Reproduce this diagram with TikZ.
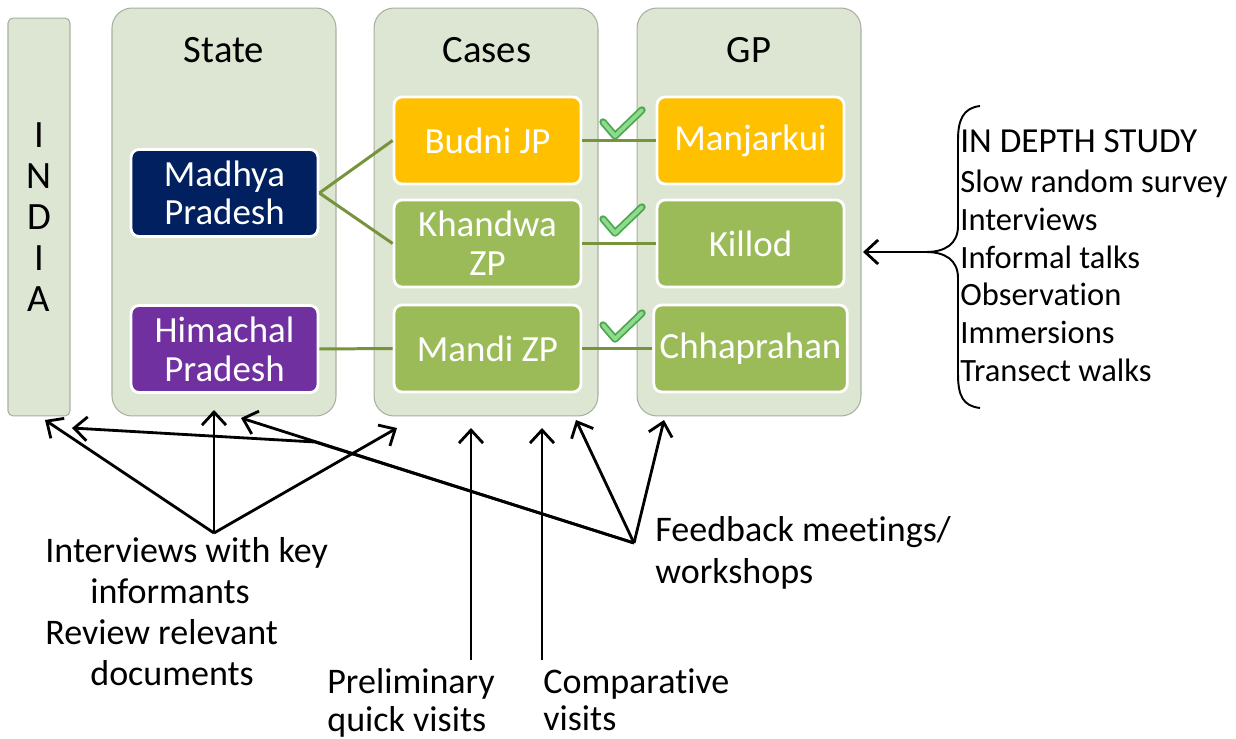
\documentclass[tikz,border=0pt]{standalone}
\usepackage{fontspec}
\setmainfont{Carlito}[Ligatures=NoCommon]
\usetikzlibrary{arrows.meta}
\definecolor{colfill}{HTML}{DCE6D2}
\definecolor{colline}{HTML}{A8B0A0}
\definecolor{mpblue}{HTML}{002060}
\definecolor{hppurple}{HTML}{7030A0}
\definecolor{jpgold}{HTML}{FFC000}
\definecolor{zpgreen}{HTML}{9BBB59}
\definecolor{linkgreen}{HTML}{77933C}
\definecolor{tickdark}{HTML}{4FA54F}
\definecolor{ticklight}{HTML}{8DDB8D}
\tikzset{
  col/.style={draw=colline, fill=colfill, line width=0.6pt, rounded corners=0.4cm},
  head/.style={font=\fontsize{22}{24}\selectfont},
  box/.style={draw=white, line width=1.6pt, rounded corners=0.16cm, minimum width=3.74cm, minimum height=1.74cm, text=white, align=center, font=\fontsize{21}{22}\selectfont},
  link/.style={draw=linkgreen, line width=1.7pt},
  arr/.style={-{Straight Barb[length=2.6mm,width=4.8mm,line width=1.6pt]}, line width=1.6pt},
  note/.style={anchor=north west, inner sep=0pt, align=left, font=\fontsize{20.5}{23.4}\selectfont}
}
\begin{document}
\begin{tikzpicture}[x=0.02cm, y=-0.02cm]
  \useasboundingbox (0,0) rectangle (1236,739);
  \node[col, rounded corners=0.1cm, minimum width=1.24cm, minimum height=7.96cm] (india) at (39,217) {};
  \node[col, minimum width=4.48cm, minimum height=8.16cm] (state) at (224,212) {};
  \node[col, minimum width=4.48cm, minimum height=8.16cm] (cases) at (486,212) {};
  \node[col, minimum width=4.48cm, minimum height=8.16cm] (gp) at (749,212) {};
  \node[align=center, font=\fontsize{22}{23.3}\selectfont] (indialbl) at (39,217) {I\\N\\D\\I\\A};
  \node[head] (statelbl) at (224,50) {State};
  \node[head] (caseslbl) at (487,50) {Cases};
  \node[head] (gplbl) at (749,50) {GP};
  \node[box, fill=mpblue] (mp) at (224.5,193) {Madhya\\Pradesh};
  \node[box, fill=hppurple] (hp) at (224.5,349) {Himachal\\Pradesh};
  \node[box, fill=jpgold] (budni) at (487.5,140.5) {Budni JP};
  \node[box, fill=zpgreen] (khandwa) at (487.5,243.5) {Khandwa\\ZP};
  \node[box, fill=zpgreen] (mandi) at (487.5,348.5) {Mandi ZP};
  \node[box, fill=jpgold] (manj) at (750.5,140.5) {Manjarkui};
  \node[box, fill=zpgreen] (killod) at (750.5,243.5) {Killod};
  \node[box, fill=zpgreen] (chha) at (750.5,348.5) {Chhaprahan};
  \foreach \source/\dest in {mp/budni, mp/khandwa, hp/mandi, budni/manj, khandwa/killod, mandi/chha}
    \path[link] (\source.east) -- (\dest.west);
  \foreach \dy in {0,97,203} {
    \draw[tickdark, line width=4.2pt, line cap=round, line join=round] (603,122+\dy) -- (615,136+\dy) -- (642,110+\dy);
    \draw[ticklight, line width=2.2pt, line cap=round, line join=round] (603,122+\dy) -- (615,136+\dy) -- (642,110+\dy);
  }
  \coordinate (kiorig) at (214,533);
  \coordinate (kia) at (45,420);
  \coordinate (kib) at (214,410);
  \coordinate (kic) at (397,428);
  \coordinate (fborig) at (634,543);
  \coordinate (fbbend) at (315,442);
  \coordinate (fba) at (72,428);
  \coordinate (fbb) at (241,418);
  \coordinate (fbc) at (576,420);
  \coordinate (fbd) at (664,420);
  \coordinate (pqfoot) at (471,660);
  \coordinate (pqtip) at (471,428);
  \coordinate (cvfoot) at (542,660);
  \coordinate (cvtip) at (542,428);
  \coordinate (bracetip) at (926,252);
  \coordinate (gptip) at (863,252);
  \foreach \t in {kia,kib,kic}
    \draw[arr] (kiorig) -- (\t);
  \foreach \t in {fbb,fbc,fbd}
    \draw[arr] (fborig) -- (\t);
  \draw[arr] (fborig) -- (fbbend) -- (fba);
  \draw[arr] (pqfoot) -- (pqtip);
  \draw[arr] (cvfoot) -- (cvtip);
  \draw[arr] (bracetip) -- (gptip);
  \draw[line width=1.1pt] (980,106) .. controls (963,108) and (958,120) .. (958,140) -- (958,226) .. controls (958,244) and (945,252) .. (bracetip) .. controls (945,252) and (958,260) .. (958,278) -- (958,374) .. controls (958,396) and (963,406) .. (980,408);
  \node[note] (kitext) at (45,537) {Interviews with key\\\hspace*{0.9cm}informants\\Review relevant\\\hspace*{0.9cm}documents};
  \node[note, font=\fontsize{20.5}{24}\selectfont] (fbtext) at (655,516) {Feedback meetings/\\workshops};
  \node[note, font=\fontsize{20.5}{21.5}\selectfont] (pqtext) at (327,668) {Preliminary\\quick visits};
  \node[note, font=\fontsize{20.5}{21.5}\selectfont] (cvtext) at (543,668) {Comparative\\visits};
  \node[note, font=\fontsize{18.5}{21.5}\selectfont] (studytext) at (960,129) {\fontsize{20}{21.5}\selectfont IN DEPTH STUDY\\[1.5pt]Slow random survey\\Interviews\\Informal talks\\Observation\\Immersions\\Transect walks};
\end{tikzpicture}
\end{document}
